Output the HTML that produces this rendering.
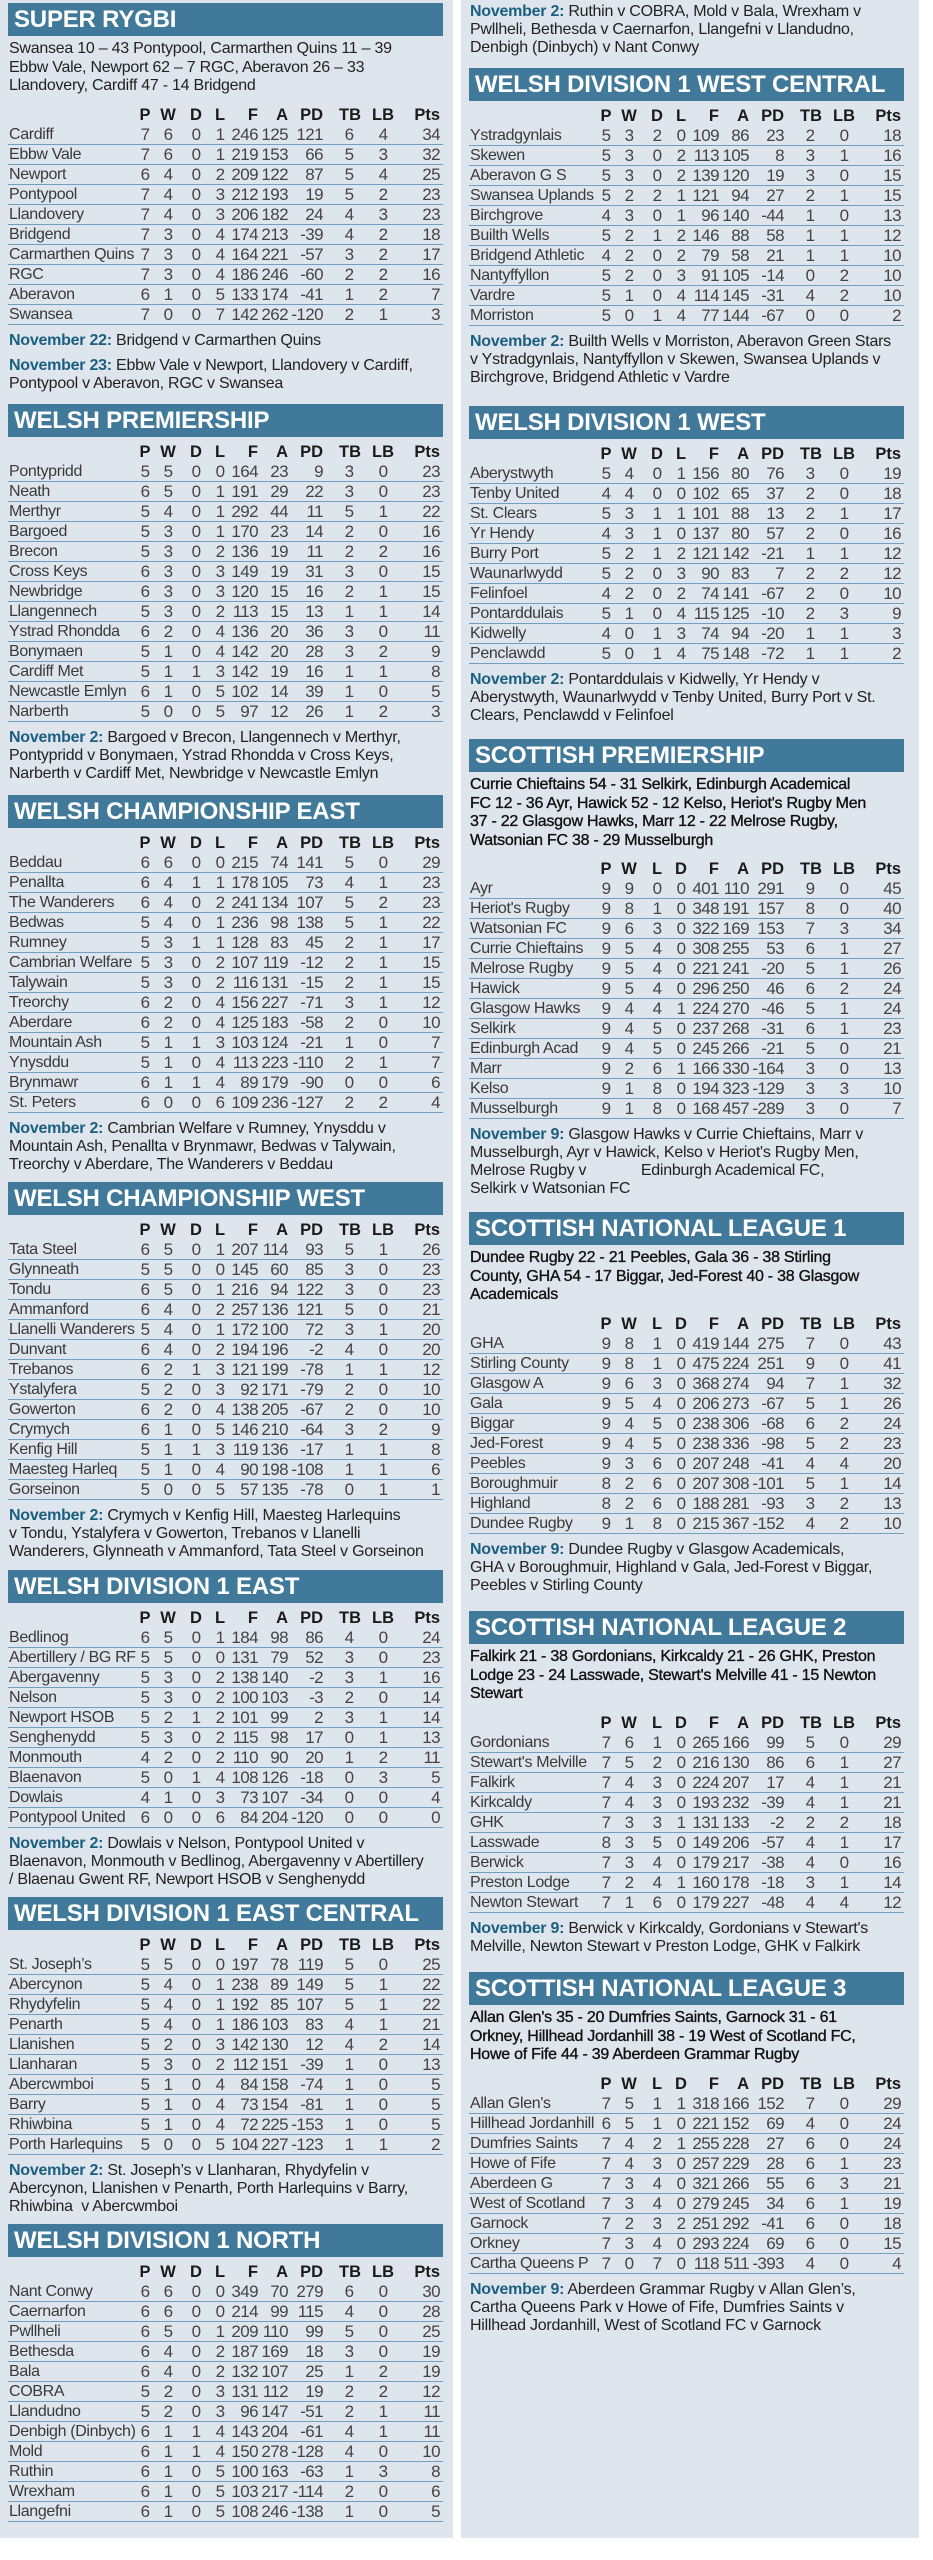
<!DOCTYPE html>
<html><head><meta charset="utf-8">
<style>
*{margin:0;padding:0;box-sizing:border-box}
body{width:933px;height:2560px;background:#fff;position:relative;font-family:"Liberation Sans",Arial,sans-serif;color:#333;overflow:hidden}
.p{position:absolute;background:#dfe5ec;top:0;height:2538px}
.s{position:absolute;width:435px}
.bar{height:33px;background:#41799b;color:#fff;font-weight:bold;font-size:24px;line-height:34px;padding-left:6px;letter-spacing:-0.2px;white-space:nowrap}
.res{margin-top:4px;line-height:18.5px;font-size:16px;letter-spacing:-0.25px;white-space:nowrap;color:#222;padding-left:1px}
.res.bd{color:#111;-webkit-text-stroke:0.35px #111}
.res+.h{margin-top:9px}
.bar+.h{margin-top:5px}
.h,.r{position:relative;height:20px;line-height:20px;white-space:nowrap}
.r{border-bottom:1px solid #6f9fc3}
.h i{font-weight:bold;color:#1a1a1a;font-size:16.5px}
.r i{color:#444;font-size:17px;letter-spacing:-0.6px}
.r i:first-child{font-size:16px;letter-spacing:-0.35px;color:#3a3a3a}
.h i,.r i{position:absolute;top:0;font-style:normal}
.h i:nth-child(1),.r i:nth-child(1){left:1px}
i:nth-child(2){left:127px;width:20px;text-align:center}
i:nth-child(3){left:150px;width:20px;text-align:center}
i:nth-child(4){left:178px;width:20px;text-align:center}
i:nth-child(5){left:202px;width:20px;text-align:center}
i:nth-child(6){left:200px;width:50px;text-align:right}
i:nth-child(7){left:230px;width:50px;text-align:right}
i:nth-child(8){left:265px;width:50px;text-align:right}
i:nth-child(9){left:331px;width:20px;text-align:center}
i:nth-child(10){left:363px;width:24px;text-align:center}
i:nth-child(11){left:382px;width:50px;text-align:right}
.n{margin-top:7px;line-height:18px;font-size:16px;letter-spacing:-0.25px;white-space:nowrap;color:#222;padding-left:1px}
.n b{color:#1a5e80}
.s>.n:first-child{margin-top:0}
</style></head><body>
<div class="p" style="left:0;width:453px"></div>
<div class="p" style="left:461px;width:458px"></div>

<!-- LEFT COLUMN -->
<div class="s" style="left:8px;top:3px">
<div class="bar">SUPER RYGBI</div>
<div class="res">Swansea 10 – 43 Pontypool, Carmarthen Quins 11 – 39<br>Ebbw Vale, Newport 62 – 7 RGC, Aberavon 26 – 33<br>Llandovery, Cardiff 47 - 14 Bridgend</div>
<div class="h"><i></i><i>P</i><i>W</i><i>D</i><i>L</i><i>F</i><i>A</i><i>PD</i><i>TB</i><i>LB</i><i>Pts</i></div>
<div class="r"><i>Cardiff</i><i>7</i><i>6</i><i>0</i><i>1</i><i>246</i><i>125</i><i>121</i><i>6</i><i>4</i><i>34</i></div>
<div class="r"><i>Ebbw Vale</i><i>7</i><i>6</i><i>0</i><i>1</i><i>219</i><i>153</i><i>66</i><i>5</i><i>3</i><i>32</i></div>
<div class="r"><i>Newport</i><i>6</i><i>4</i><i>0</i><i>2</i><i>209</i><i>122</i><i>87</i><i>5</i><i>4</i><i>25</i></div>
<div class="r"><i>Pontypool</i><i>7</i><i>4</i><i>0</i><i>3</i><i>212</i><i>193</i><i>19</i><i>5</i><i>2</i><i>23</i></div>
<div class="r"><i>Llandovery</i><i>7</i><i>4</i><i>0</i><i>3</i><i>206</i><i>182</i><i>24</i><i>4</i><i>3</i><i>23</i></div>
<div class="r"><i>Bridgend</i><i>7</i><i>3</i><i>0</i><i>4</i><i>174</i><i>213</i><i>-39</i><i>4</i><i>2</i><i>18</i></div>
<div class="r"><i>Carmarthen Quins</i><i>7</i><i>3</i><i>0</i><i>4</i><i>164</i><i>221</i><i>-57</i><i>3</i><i>2</i><i>17</i></div>
<div class="r"><i>RGC</i><i>7</i><i>3</i><i>0</i><i>4</i><i>186</i><i>246</i><i>-60</i><i>2</i><i>2</i><i>16</i></div>
<div class="r"><i>Aberavon</i><i>6</i><i>1</i><i>0</i><i>5</i><i>133</i><i>174</i><i>-41</i><i>1</i><i>2</i><i>7</i></div>
<div class="r"><i>Swansea</i><i>7</i><i>0</i><i>0</i><i>7</i><i>142</i><i>262</i><i>-120</i><i>2</i><i>1</i><i>3</i></div>
<div class="n"><b>November 22:</b> Bridgend v Carmarthen Quins</div>
<div class="n"><b>November 23:</b> Ebbw Vale v Newport, Llandovery v Cardiff,<br>Pontypool v Aberavon, RGC v Swansea</div>
</div>

<div class="s" style="left:8px;top:404px">
<div class="bar">WELSH PREMIERSHIP</div>
<div class="h"><i></i><i>P</i><i>W</i><i>D</i><i>L</i><i>F</i><i>A</i><i>PD</i><i>TB</i><i>LB</i><i>Pts</i></div>
<div class="r"><i>Pontypridd</i><i>5</i><i>5</i><i>0</i><i>0</i><i>164</i><i>23</i><i>9</i><i>3</i><i>0</i><i>23</i></div>
<div class="r"><i>Neath</i><i>6</i><i>5</i><i>0</i><i>1</i><i>191</i><i>29</i><i>22</i><i>3</i><i>0</i><i>23</i></div>
<div class="r"><i>Merthyr</i><i>5</i><i>4</i><i>0</i><i>1</i><i>292</i><i>44</i><i>11</i><i>5</i><i>1</i><i>22</i></div>
<div class="r"><i>Bargoed</i><i>5</i><i>3</i><i>0</i><i>1</i><i>170</i><i>23</i><i>14</i><i>2</i><i>0</i><i>16</i></div>
<div class="r"><i>Brecon</i><i>5</i><i>3</i><i>0</i><i>2</i><i>136</i><i>19</i><i>11</i><i>2</i><i>2</i><i>16</i></div>
<div class="r"><i>Cross Keys</i><i>6</i><i>3</i><i>0</i><i>3</i><i>149</i><i>19</i><i>31</i><i>3</i><i>0</i><i>15</i></div>
<div class="r"><i>Newbridge</i><i>6</i><i>3</i><i>0</i><i>3</i><i>120</i><i>15</i><i>16</i><i>2</i><i>1</i><i>15</i></div>
<div class="r"><i>Llangennech</i><i>5</i><i>3</i><i>0</i><i>2</i><i>113</i><i>15</i><i>13</i><i>1</i><i>1</i><i>14</i></div>
<div class="r"><i>Ystrad Rhondda</i><i>6</i><i>2</i><i>0</i><i>4</i><i>136</i><i>20</i><i>36</i><i>3</i><i>0</i><i>11</i></div>
<div class="r"><i>Bonymaen</i><i>5</i><i>1</i><i>0</i><i>4</i><i>142</i><i>20</i><i>28</i><i>3</i><i>2</i><i>9</i></div>
<div class="r"><i>Cardiff Met</i><i>5</i><i>1</i><i>1</i><i>3</i><i>142</i><i>19</i><i>16</i><i>1</i><i>1</i><i>8</i></div>
<div class="r"><i>Newcastle Emlyn</i><i>6</i><i>1</i><i>0</i><i>5</i><i>102</i><i>14</i><i>39</i><i>1</i><i>0</i><i>5</i></div>
<div class="r"><i>Narberth</i><i>5</i><i>0</i><i>0</i><i>5</i><i>97</i><i>12</i><i>26</i><i>1</i><i>2</i><i>3</i></div>
<div class="n"><b>November 2:</b> Bargoed v Brecon, Llangennech v Merthyr,<br>Pontypridd v Bonymaen, Ystrad Rhondda v Cross Keys,<br>Narberth v Cardiff Met, Newbridge v Newcastle Emlyn</div>
</div>

<div class="s" style="left:8px;top:795px">
<div class="bar">WELSH CHAMPIONSHIP EAST</div>
<div class="h"><i></i><i>P</i><i>W</i><i>D</i><i>L</i><i>F</i><i>A</i><i>PD</i><i>TB</i><i>LB</i><i>Pts</i></div>
<div class="r"><i>Beddau</i><i>6</i><i>6</i><i>0</i><i>0</i><i>215</i><i>74</i><i>141</i><i>5</i><i>0</i><i>29</i></div>
<div class="r"><i>Penallta</i><i>6</i><i>4</i><i>1</i><i>1</i><i>178</i><i>105</i><i>73</i><i>4</i><i>1</i><i>23</i></div>
<div class="r"><i>The Wanderers</i><i>6</i><i>4</i><i>0</i><i>2</i><i>241</i><i>134</i><i>107</i><i>5</i><i>2</i><i>23</i></div>
<div class="r"><i>Bedwas</i><i>5</i><i>4</i><i>0</i><i>1</i><i>236</i><i>98</i><i>138</i><i>5</i><i>1</i><i>22</i></div>
<div class="r"><i>Rumney</i><i>5</i><i>3</i><i>1</i><i>1</i><i>128</i><i>83</i><i>45</i><i>2</i><i>1</i><i>17</i></div>
<div class="r"><i>Cambrian Welfare</i><i>5</i><i>3</i><i>0</i><i>2</i><i>107</i><i>119</i><i>-12</i><i>2</i><i>1</i><i>15</i></div>
<div class="r"><i>Talywain</i><i>5</i><i>3</i><i>0</i><i>2</i><i>116</i><i>131</i><i>-15</i><i>2</i><i>1</i><i>15</i></div>
<div class="r"><i>Treorchy</i><i>6</i><i>2</i><i>0</i><i>4</i><i>156</i><i>227</i><i>-71</i><i>3</i><i>1</i><i>12</i></div>
<div class="r"><i>Aberdare</i><i>6</i><i>2</i><i>0</i><i>4</i><i>125</i><i>183</i><i>-58</i><i>2</i><i>0</i><i>10</i></div>
<div class="r"><i>Mountain Ash</i><i>5</i><i>1</i><i>1</i><i>3</i><i>103</i><i>124</i><i>-21</i><i>1</i><i>0</i><i>7</i></div>
<div class="r"><i>Ynysddu</i><i>5</i><i>1</i><i>0</i><i>4</i><i>113</i><i>223</i><i>-110</i><i>2</i><i>1</i><i>7</i></div>
<div class="r"><i>Brynmawr</i><i>6</i><i>1</i><i>1</i><i>4</i><i>89</i><i>179</i><i>-90</i><i>0</i><i>0</i><i>6</i></div>
<div class="r"><i>St. Peters</i><i>6</i><i>0</i><i>0</i><i>6</i><i>109</i><i>236</i><i>-127</i><i>2</i><i>2</i><i>4</i></div>
<div class="n"><b>November 2:</b> Cambrian Welfare v Rumney, Ynysddu v<br>Mountain Ash, Penallta v Brynmawr, Bedwas v Talywain,<br>Treorchy v Aberdare, The Wanderers v Beddau</div>
</div>

<div class="s" style="left:8px;top:1182px">
<div class="bar">WELSH CHAMPIONSHIP WEST</div>
<div class="h"><i></i><i>P</i><i>W</i><i>D</i><i>L</i><i>F</i><i>A</i><i>PD</i><i>TB</i><i>LB</i><i>Pts</i></div>
<div class="r"><i>Tata Steel</i><i>6</i><i>5</i><i>0</i><i>1</i><i>207</i><i>114</i><i>93</i><i>5</i><i>1</i><i>26</i></div>
<div class="r"><i>Glynneath</i><i>5</i><i>5</i><i>0</i><i>0</i><i>145</i><i>60</i><i>85</i><i>3</i><i>0</i><i>23</i></div>
<div class="r"><i>Tondu</i><i>6</i><i>5</i><i>0</i><i>1</i><i>216</i><i>94</i><i>122</i><i>3</i><i>0</i><i>23</i></div>
<div class="r"><i>Ammanford</i><i>6</i><i>4</i><i>0</i><i>2</i><i>257</i><i>136</i><i>121</i><i>5</i><i>0</i><i>21</i></div>
<div class="r"><i>Llanelli Wanderers</i><i>5</i><i>4</i><i>0</i><i>1</i><i>172</i><i>100</i><i>72</i><i>3</i><i>1</i><i>20</i></div>
<div class="r"><i>Dunvant</i><i>6</i><i>4</i><i>0</i><i>2</i><i>194</i><i>196</i><i>-2</i><i>4</i><i>0</i><i>20</i></div>
<div class="r"><i>Trebanos</i><i>6</i><i>2</i><i>1</i><i>3</i><i>121</i><i>199</i><i>-78</i><i>1</i><i>1</i><i>12</i></div>
<div class="r"><i>Ystalyfera</i><i>5</i><i>2</i><i>0</i><i>3</i><i>92</i><i>171</i><i>-79</i><i>2</i><i>0</i><i>10</i></div>
<div class="r"><i>Gowerton</i><i>6</i><i>2</i><i>0</i><i>4</i><i>138</i><i>205</i><i>-67</i><i>2</i><i>0</i><i>10</i></div>
<div class="r"><i>Crymych</i><i>6</i><i>1</i><i>0</i><i>5</i><i>146</i><i>210</i><i>-64</i><i>3</i><i>2</i><i>9</i></div>
<div class="r"><i>Kenfig Hill</i><i>5</i><i>1</i><i>1</i><i>3</i><i>119</i><i>136</i><i>-17</i><i>1</i><i>1</i><i>8</i></div>
<div class="r"><i>Maesteg Harleq</i><i>5</i><i>1</i><i>0</i><i>4</i><i>90</i><i>198</i><i>-108</i><i>1</i><i>1</i><i>6</i></div>
<div class="r"><i>Gorseinon</i><i>5</i><i>0</i><i>0</i><i>5</i><i>57</i><i>135</i><i>-78</i><i>0</i><i>1</i><i>1</i></div>
<div class="n"><b>November 2:</b> Crymych v Kenfig Hill, Maesteg Harlequins<br>v Tondu, Ystalyfera v Gowerton, Trebanos v Llanelli<br>Wanderers, Glynneath v Ammanford, Tata Steel v Gorseinon</div>
</div>

<div class="s" style="left:8px;top:1570px">
<div class="bar">WELSH DIVISION 1 EAST</div>
<div class="h"><i></i><i>P</i><i>W</i><i>D</i><i>L</i><i>F</i><i>A</i><i>PD</i><i>TB</i><i>LB</i><i>Pts</i></div>
<div class="r"><i>Bedlinog</i><i>6</i><i>5</i><i>0</i><i>1</i><i>184</i><i>98</i><i>86</i><i>4</i><i>0</i><i>24</i></div>
<div class="r"><i>Abertillery / BG RF</i><i>5</i><i>5</i><i>0</i><i>0</i><i>131</i><i>79</i><i>52</i><i>3</i><i>0</i><i>23</i></div>
<div class="r"><i>Abergavenny</i><i>5</i><i>3</i><i>0</i><i>2</i><i>138</i><i>140</i><i>-2</i><i>3</i><i>1</i><i>16</i></div>
<div class="r"><i>Nelson</i><i>5</i><i>3</i><i>0</i><i>2</i><i>100</i><i>103</i><i>-3</i><i>2</i><i>0</i><i>14</i></div>
<div class="r"><i>Newport HSOB</i><i>5</i><i>2</i><i>1</i><i>2</i><i>101</i><i>99</i><i>2</i><i>3</i><i>1</i><i>14</i></div>
<div class="r"><i>Senghenydd</i><i>5</i><i>3</i><i>0</i><i>2</i><i>115</i><i>98</i><i>17</i><i>0</i><i>1</i><i>13</i></div>
<div class="r"><i>Monmouth</i><i>4</i><i>2</i><i>0</i><i>2</i><i>110</i><i>90</i><i>20</i><i>1</i><i>2</i><i>11</i></div>
<div class="r"><i>Blaenavon</i><i>5</i><i>0</i><i>1</i><i>4</i><i>108</i><i>126</i><i>-18</i><i>0</i><i>3</i><i>5</i></div>
<div class="r"><i>Dowlais</i><i>4</i><i>1</i><i>0</i><i>3</i><i>73</i><i>107</i><i>-34</i><i>0</i><i>0</i><i>4</i></div>
<div class="r"><i>Pontypool United</i><i>6</i><i>0</i><i>0</i><i>6</i><i>84</i><i>204</i><i>-120</i><i>0</i><i>0</i><i>0</i></div>
<div class="n"><b>November 2:</b> Dowlais v Nelson, Pontypool United v<br>Blaenavon, Monmouth v Bedlinog, Abergavenny v Abertillery<br>/ Blaenau Gwent RF, Newport HSOB v Senghenydd</div>
</div>

<div class="s" style="left:8px;top:1897px">
<div class="bar">WELSH DIVISION 1 EAST CENTRAL</div>
<div class="h"><i></i><i>P</i><i>W</i><i>D</i><i>L</i><i>F</i><i>A</i><i>PD</i><i>TB</i><i>LB</i><i>Pts</i></div>
<div class="r"><i>St. Joseph’s</i><i>5</i><i>5</i><i>0</i><i>0</i><i>197</i><i>78</i><i>119</i><i>5</i><i>0</i><i>25</i></div>
<div class="r"><i>Abercynon</i><i>5</i><i>4</i><i>0</i><i>1</i><i>238</i><i>89</i><i>149</i><i>5</i><i>1</i><i>22</i></div>
<div class="r"><i>Rhydyfelin</i><i>5</i><i>4</i><i>0</i><i>1</i><i>192</i><i>85</i><i>107</i><i>5</i><i>1</i><i>22</i></div>
<div class="r"><i>Penarth</i><i>5</i><i>4</i><i>0</i><i>1</i><i>186</i><i>103</i><i>83</i><i>4</i><i>1</i><i>21</i></div>
<div class="r"><i>Llanishen</i><i>5</i><i>2</i><i>0</i><i>3</i><i>142</i><i>130</i><i>12</i><i>4</i><i>2</i><i>14</i></div>
<div class="r"><i>Llanharan</i><i>5</i><i>3</i><i>0</i><i>2</i><i>112</i><i>151</i><i>-39</i><i>1</i><i>0</i><i>13</i></div>
<div class="r"><i>Abercwmboi</i><i>5</i><i>1</i><i>0</i><i>4</i><i>84</i><i>158</i><i>-74</i><i>1</i><i>0</i><i>5</i></div>
<div class="r"><i>Barry</i><i>5</i><i>1</i><i>0</i><i>4</i><i>73</i><i>154</i><i>-81</i><i>1</i><i>0</i><i>5</i></div>
<div class="r"><i>Rhiwbina</i><i>5</i><i>1</i><i>0</i><i>4</i><i>72</i><i>225</i><i>-153</i><i>1</i><i>0</i><i>5</i></div>
<div class="r"><i>Porth Harlequins</i><i>5</i><i>0</i><i>0</i><i>5</i><i>104</i><i>227</i><i>-123</i><i>1</i><i>1</i><i>2</i></div>
<div class="n"><b>November 2:</b> St. Joseph’s v Llanharan, Rhydyfelin v<br>Abercynon, Llanishen v Penarth, Porth Harlequins v Barry,<br>Rhiwbina&nbsp; v Abercwmboi</div>
</div>

<div class="s" style="left:8px;top:2224px">
<div class="bar">WELSH DIVISION 1 NORTH</div>
<div class="h"><i></i><i>P</i><i>W</i><i>D</i><i>L</i><i>F</i><i>A</i><i>PD</i><i>TB</i><i>LB</i><i>Pts</i></div>
<div class="r"><i>Nant Conwy</i><i>6</i><i>6</i><i>0</i><i>0</i><i>349</i><i>70</i><i>279</i><i>6</i><i>0</i><i>30</i></div>
<div class="r"><i>Caernarfon</i><i>6</i><i>6</i><i>0</i><i>0</i><i>214</i><i>99</i><i>115</i><i>4</i><i>0</i><i>28</i></div>
<div class="r"><i>Pwllheli</i><i>6</i><i>5</i><i>0</i><i>1</i><i>209</i><i>110</i><i>99</i><i>5</i><i>0</i><i>25</i></div>
<div class="r"><i>Bethesda</i><i>6</i><i>4</i><i>0</i><i>2</i><i>187</i><i>169</i><i>18</i><i>3</i><i>0</i><i>19</i></div>
<div class="r"><i>Bala</i><i>6</i><i>4</i><i>0</i><i>2</i><i>132</i><i>107</i><i>25</i><i>1</i><i>2</i><i>19</i></div>
<div class="r"><i>COBRA</i><i>5</i><i>2</i><i>0</i><i>3</i><i>131</i><i>112</i><i>19</i><i>2</i><i>2</i><i>12</i></div>
<div class="r"><i>Llandudno</i><i>5</i><i>2</i><i>0</i><i>3</i><i>96</i><i>147</i><i>-51</i><i>2</i><i>1</i><i>11</i></div>
<div class="r"><i>Denbigh (Dinbych)</i><i>6</i><i>1</i><i>1</i><i>4</i><i>143</i><i>204</i><i>-61</i><i>4</i><i>1</i><i>11</i></div>
<div class="r"><i>Mold</i><i>6</i><i>1</i><i>1</i><i>4</i><i>150</i><i>278</i><i>-128</i><i>4</i><i>0</i><i>10</i></div>
<div class="r"><i>Ruthin</i><i>6</i><i>1</i><i>0</i><i>5</i><i>100</i><i>163</i><i>-63</i><i>1</i><i>3</i><i>8</i></div>
<div class="r"><i>Wrexham</i><i>6</i><i>1</i><i>0</i><i>5</i><i>103</i><i>217</i><i>-114</i><i>2</i><i>0</i><i>6</i></div>
<div class="r"><i>Llangefni</i><i>6</i><i>1</i><i>0</i><i>5</i><i>108</i><i>246</i><i>-138</i><i>1</i><i>0</i><i>5</i></div>
</div>

<!-- RIGHT COLUMN -->
<div class="s" style="left:469px;top:3px">
<div class="n"><b>November 2:</b> Ruthin v COBRA, Mold v Bala, Wrexham v<br>Pwllheli, Bethesda v Caernarfon, Llangefni v Llandudno,<br>Denbigh (Dinbych) v Nant Conwy</div>
</div>

<div class="s" style="left:469px;top:68px">
<div class="bar">WELSH DIVISION 1 WEST CENTRAL</div>
<div class="h"><i></i><i>P</i><i>W</i><i>D</i><i>L</i><i>F</i><i>A</i><i>PD</i><i>TB</i><i>LB</i><i>Pts</i></div>
<div class="r"><i>Ystradgynlais</i><i>5</i><i>3</i><i>2</i><i>0</i><i>109</i><i>86</i><i>23</i><i>2</i><i>0</i><i>18</i></div>
<div class="r"><i>Skewen</i><i>5</i><i>3</i><i>0</i><i>2</i><i>113</i><i>105</i><i>8</i><i>3</i><i>1</i><i>16</i></div>
<div class="r"><i>Aberavon G S</i><i>5</i><i>3</i><i>0</i><i>2</i><i>139</i><i>120</i><i>19</i><i>3</i><i>0</i><i>15</i></div>
<div class="r"><i>Swansea Uplands</i><i>5</i><i>2</i><i>2</i><i>1</i><i>121</i><i>94</i><i>27</i><i>2</i><i>1</i><i>15</i></div>
<div class="r"><i>Birchgrove</i><i>4</i><i>3</i><i>0</i><i>1</i><i>96</i><i>140</i><i>-44</i><i>1</i><i>0</i><i>13</i></div>
<div class="r"><i>Builth Wells</i><i>5</i><i>2</i><i>1</i><i>2</i><i>146</i><i>88</i><i>58</i><i>1</i><i>1</i><i>12</i></div>
<div class="r"><i>Bridgend Athletic</i><i>4</i><i>2</i><i>0</i><i>2</i><i>79</i><i>58</i><i>21</i><i>1</i><i>1</i><i>10</i></div>
<div class="r"><i>Nantyffyllon</i><i>5</i><i>2</i><i>0</i><i>3</i><i>91</i><i>105</i><i>-14</i><i>0</i><i>2</i><i>10</i></div>
<div class="r"><i>Vardre</i><i>5</i><i>1</i><i>0</i><i>4</i><i>114</i><i>145</i><i>-31</i><i>4</i><i>2</i><i>10</i></div>
<div class="r"><i>Morriston</i><i>5</i><i>0</i><i>1</i><i>4</i><i>77</i><i>144</i><i>-67</i><i>0</i><i>0</i><i>2</i></div>
<div class="n"><b>November 2:</b> Builth Wells v Morriston, Aberavon Green Stars<br>v Ystradgynlais, Nantyffyllon v Skewen, Swansea Uplands v<br>Birchgrove, Bridgend Athletic v Vardre</div>
</div>

<div class="s" style="left:469px;top:406px">
<div class="bar">WELSH DIVISION 1 WEST</div>
<div class="h"><i></i><i>P</i><i>W</i><i>D</i><i>L</i><i>F</i><i>A</i><i>PD</i><i>TB</i><i>LB</i><i>Pts</i></div>
<div class="r"><i>Aberystwyth</i><i>5</i><i>4</i><i>0</i><i>1</i><i>156</i><i>80</i><i>76</i><i>3</i><i>0</i><i>19</i></div>
<div class="r"><i>Tenby United</i><i>4</i><i>4</i><i>0</i><i>0</i><i>102</i><i>65</i><i>37</i><i>2</i><i>0</i><i>18</i></div>
<div class="r"><i>St. Clears</i><i>5</i><i>3</i><i>1</i><i>1</i><i>101</i><i>88</i><i>13</i><i>2</i><i>1</i><i>17</i></div>
<div class="r"><i>Yr Hendy</i><i>4</i><i>3</i><i>1</i><i>0</i><i>137</i><i>80</i><i>57</i><i>2</i><i>0</i><i>16</i></div>
<div class="r"><i>Burry Port</i><i>5</i><i>2</i><i>1</i><i>2</i><i>121</i><i>142</i><i>-21</i><i>1</i><i>1</i><i>12</i></div>
<div class="r"><i>Waunarlwydd</i><i>5</i><i>2</i><i>0</i><i>3</i><i>90</i><i>83</i><i>7</i><i>2</i><i>2</i><i>12</i></div>
<div class="r"><i>Felinfoel</i><i>4</i><i>2</i><i>0</i><i>2</i><i>74</i><i>141</i><i>-67</i><i>2</i><i>0</i><i>10</i></div>
<div class="r"><i>Pontarddulais</i><i>5</i><i>1</i><i>0</i><i>4</i><i>115</i><i>125</i><i>-10</i><i>2</i><i>3</i><i>9</i></div>
<div class="r"><i>Kidwelly</i><i>4</i><i>0</i><i>1</i><i>3</i><i>74</i><i>94</i><i>-20</i><i>1</i><i>1</i><i>3</i></div>
<div class="r"><i>Penclawdd</i><i>5</i><i>0</i><i>1</i><i>4</i><i>75</i><i>148</i><i>-72</i><i>1</i><i>1</i><i>2</i></div>
<div class="n"><b>November 2:</b> Pontarddulais v Kidwelly, Yr Hendy v<br>Aberystwyth, Waunarlwydd v Tenby United, Burry Port v St.<br>Clears, Penclawdd v Felinfoel</div>
</div>

<div class="s" style="left:469px;top:739px">
<div class="bar">SCOTTISH PREMIERSHIP</div>
<div class="res bd">Currie Chieftains 54 - 31 Selkirk, Edinburgh Academical<br>FC 12 - 36 Ayr, Hawick 52 - 12 Kelso, Heriot's Rugby Men<br>37 - 22 Glasgow Hawks, Marr 12 - 22 Melrose Rugby,<br>Watsonian FC 38 - 29 Musselburgh</div>
<div class="h"><i></i><i>P</i><i>W</i><i>L</i><i>D</i><i>F</i><i>A</i><i>PD</i><i>TB</i><i>LB</i><i>Pts</i></div>
<div class="r"><i>Ayr</i><i>9</i><i>9</i><i>0</i><i>0</i><i>401</i><i>110</i><i>291</i><i>9</i><i>0</i><i>45</i></div>
<div class="r"><i>Heriot's Rugby</i><i>9</i><i>8</i><i>1</i><i>0</i><i>348</i><i>191</i><i>157</i><i>8</i><i>0</i><i>40</i></div>
<div class="r"><i>Watsonian FC</i><i>9</i><i>6</i><i>3</i><i>0</i><i>322</i><i>169</i><i>153</i><i>7</i><i>3</i><i>34</i></div>
<div class="r"><i>Currie Chieftains</i><i>9</i><i>5</i><i>4</i><i>0</i><i>308</i><i>255</i><i>53</i><i>6</i><i>1</i><i>27</i></div>
<div class="r"><i>Melrose Rugby</i><i>9</i><i>5</i><i>4</i><i>0</i><i>221</i><i>241</i><i>-20</i><i>5</i><i>1</i><i>26</i></div>
<div class="r"><i>Hawick</i><i>9</i><i>5</i><i>4</i><i>0</i><i>296</i><i>250</i><i>46</i><i>6</i><i>2</i><i>24</i></div>
<div class="r"><i>Glasgow Hawks</i><i>9</i><i>4</i><i>4</i><i>1</i><i>224</i><i>270</i><i>-46</i><i>5</i><i>1</i><i>24</i></div>
<div class="r"><i>Selkirk</i><i>9</i><i>4</i><i>5</i><i>0</i><i>237</i><i>268</i><i>-31</i><i>6</i><i>1</i><i>23</i></div>
<div class="r"><i>Edinburgh Acad</i><i>9</i><i>4</i><i>5</i><i>0</i><i>245</i><i>266</i><i>-21</i><i>5</i><i>0</i><i>21</i></div>
<div class="r"><i>Marr</i><i>9</i><i>2</i><i>6</i><i>1</i><i>166</i><i>330</i><i>-164</i><i>3</i><i>0</i><i>13</i></div>
<div class="r"><i>Kelso</i><i>9</i><i>1</i><i>8</i><i>0</i><i>194</i><i>323</i><i>-129</i><i>3</i><i>3</i><i>10</i></div>
<div class="r"><i>Musselburgh</i><i>9</i><i>1</i><i>8</i><i>0</i><i>168</i><i>457</i><i>-289</i><i>3</i><i>0</i><i>7</i></div>
<div class="n"><b>November 9:</b> Glasgow Hawks v Currie Chieftains, Marr v<br>Musselburgh, Ayr v Hawick, Kelso v Heriot's Rugby Men,<br>Melrose Rugby v&nbsp;&nbsp;&nbsp;&nbsp;&nbsp;&nbsp;&nbsp;&nbsp;&nbsp;&nbsp;&nbsp;&nbsp; Edinburgh Academical FC,<br>Selkirk v Watsonian FC</div>
</div>

<div class="s" style="left:469px;top:1212px">
<div class="bar">SCOTTISH NATIONAL LEAGUE 1</div>
<div class="res bd">Dundee Rugby 22 - 21 Peebles, Gala 36 - 38 Stirling<br>County, GHA 54 - 17 Biggar, Jed-Forest 40 - 38 Glasgow<br>Academicals</div>
<div class="h"><i></i><i>P</i><i>W</i><i>L</i><i>D</i><i>F</i><i>A</i><i>PD</i><i>TB</i><i>LB</i><i>Pts</i></div>
<div class="r"><i>GHA</i><i>9</i><i>8</i><i>1</i><i>0</i><i>419</i><i>144</i><i>275</i><i>7</i><i>0</i><i>43</i></div>
<div class="r"><i>Stirling County</i><i>9</i><i>8</i><i>1</i><i>0</i><i>475</i><i>224</i><i>251</i><i>9</i><i>0</i><i>41</i></div>
<div class="r"><i>Glasgow A</i><i>9</i><i>6</i><i>3</i><i>0</i><i>368</i><i>274</i><i>94</i><i>7</i><i>1</i><i>32</i></div>
<div class="r"><i>Gala</i><i>9</i><i>5</i><i>4</i><i>0</i><i>206</i><i>273</i><i>-67</i><i>5</i><i>1</i><i>26</i></div>
<div class="r"><i>Biggar</i><i>9</i><i>4</i><i>5</i><i>0</i><i>238</i><i>306</i><i>-68</i><i>6</i><i>2</i><i>24</i></div>
<div class="r"><i>Jed-Forest</i><i>9</i><i>4</i><i>5</i><i>0</i><i>238</i><i>336</i><i>-98</i><i>5</i><i>2</i><i>23</i></div>
<div class="r"><i>Peebles</i><i>9</i><i>3</i><i>6</i><i>0</i><i>207</i><i>248</i><i>-41</i><i>4</i><i>4</i><i>20</i></div>
<div class="r"><i>Boroughmuir</i><i>8</i><i>2</i><i>6</i><i>0</i><i>207</i><i>308</i><i>-101</i><i>5</i><i>1</i><i>14</i></div>
<div class="r"><i>Highland</i><i>8</i><i>2</i><i>6</i><i>0</i><i>188</i><i>281</i><i>-93</i><i>3</i><i>2</i><i>13</i></div>
<div class="r"><i>Dundee Rugby</i><i>9</i><i>1</i><i>8</i><i>0</i><i>215</i><i>367</i><i>-152</i><i>4</i><i>2</i><i>10</i></div>
<div class="n"><b>November 9:</b> Dundee Rugby v Glasgow Academicals,<br>GHA v Boroughmuir, Highland v Gala, Jed-Forest v Biggar,<br>Peebles v Stirling County</div>
</div>

<div class="s" style="left:469px;top:1611px">
<div class="bar">SCOTTISH NATIONAL LEAGUE 2</div>
<div class="res bd">Falkirk 21 - 38 Gordonians, Kirkcaldy 21 - 26 GHK, Preston<br>Lodge 23 - 24 Lasswade, Stewart's Melville 41 - 15 Newton<br>Stewart</div>
<div class="h"><i></i><i>P</i><i>W</i><i>L</i><i>D</i><i>F</i><i>A</i><i>PD</i><i>TB</i><i>LB</i><i>Pts</i></div>
<div class="r"><i>Gordonians</i><i>7</i><i>6</i><i>1</i><i>0</i><i>265</i><i>166</i><i>99</i><i>5</i><i>0</i><i>29</i></div>
<div class="r"><i>Stewart's Melville</i><i>7</i><i>5</i><i>2</i><i>0</i><i>216</i><i>130</i><i>86</i><i>6</i><i>1</i><i>27</i></div>
<div class="r"><i>Falkirk</i><i>7</i><i>4</i><i>3</i><i>0</i><i>224</i><i>207</i><i>17</i><i>4</i><i>1</i><i>21</i></div>
<div class="r"><i>Kirkcaldy</i><i>7</i><i>4</i><i>3</i><i>0</i><i>193</i><i>232</i><i>-39</i><i>4</i><i>1</i><i>21</i></div>
<div class="r"><i>GHK</i><i>7</i><i>3</i><i>3</i><i>1</i><i>131</i><i>133</i><i>-2</i><i>2</i><i>2</i><i>18</i></div>
<div class="r"><i>Lasswade</i><i>8</i><i>3</i><i>5</i><i>0</i><i>149</i><i>206</i><i>-57</i><i>4</i><i>1</i><i>17</i></div>
<div class="r"><i>Berwick</i><i>7</i><i>3</i><i>4</i><i>0</i><i>179</i><i>217</i><i>-38</i><i>4</i><i>0</i><i>16</i></div>
<div class="r"><i>Preston Lodge</i><i>7</i><i>2</i><i>4</i><i>1</i><i>160</i><i>178</i><i>-18</i><i>3</i><i>1</i><i>14</i></div>
<div class="r"><i>Newton Stewart</i><i>7</i><i>1</i><i>6</i><i>0</i><i>179</i><i>227</i><i>-48</i><i>4</i><i>4</i><i>12</i></div>
<div class="n"><b>November 9:</b> Berwick v Kirkcaldy, Gordonians v Stewart's<br>Melville, Newton Stewart v Preston Lodge, GHK v Falkirk</div>
</div>

<div class="s" style="left:469px;top:1972px">
<div class="bar">SCOTTISH NATIONAL LEAGUE 3</div>
<div class="res bd">Allan Glen's 35 - 20 Dumfries Saints, Garnock 31 - 61<br>Orkney, Hillhead Jordanhill 38 - 19 West of Scotland FC,<br>Howe of Fife 44 - 39 Aberdeen Grammar Rugby</div>
<div class="h"><i></i><i>P</i><i>W</i><i>L</i><i>D</i><i>F</i><i>A</i><i>PD</i><i>TB</i><i>LB</i><i>Pts</i></div>
<div class="r"><i>Allan Glen's</i><i>7</i><i>5</i><i>1</i><i>1</i><i>318</i><i>166</i><i>152</i><i>7</i><i>0</i><i>29</i></div>
<div class="r"><i>Hillhead Jordanhill</i><i>6</i><i>5</i><i>1</i><i>0</i><i>221</i><i>152</i><i>69</i><i>4</i><i>0</i><i>24</i></div>
<div class="r"><i>Dumfries Saints</i><i>7</i><i>4</i><i>2</i><i>1</i><i>255</i><i>228</i><i>27</i><i>6</i><i>0</i><i>24</i></div>
<div class="r"><i>Howe of Fife</i><i>7</i><i>4</i><i>3</i><i>0</i><i>257</i><i>229</i><i>28</i><i>6</i><i>1</i><i>23</i></div>
<div class="r"><i>Aberdeen G</i><i>7</i><i>3</i><i>4</i><i>0</i><i>321</i><i>266</i><i>55</i><i>6</i><i>3</i><i>21</i></div>
<div class="r"><i>West of Scotland</i><i>7</i><i>3</i><i>4</i><i>0</i><i>279</i><i>245</i><i>34</i><i>6</i><i>1</i><i>19</i></div>
<div class="r"><i>Garnock</i><i>7</i><i>2</i><i>3</i><i>2</i><i>251</i><i>292</i><i>-41</i><i>6</i><i>0</i><i>18</i></div>
<div class="r"><i>Orkney</i><i>7</i><i>3</i><i>4</i><i>0</i><i>293</i><i>224</i><i>69</i><i>6</i><i>0</i><i>15</i></div>
<div class="r"><i>Cartha Queens P</i><i>7</i><i>0</i><i>7</i><i>0</i><i>118</i><i>511</i><i>-393</i><i>4</i><i>0</i><i>4</i></div>
<div class="n"><b>November 9:</b> Aberdeen Grammar Rugby v Allan Glen’s,<br>Cartha Queens Park v Howe of Fife, Dumfries Saints v<br>Hillhead Jordanhill, West of Scotland FC v Garnock</div>
</div>
</body></html>
